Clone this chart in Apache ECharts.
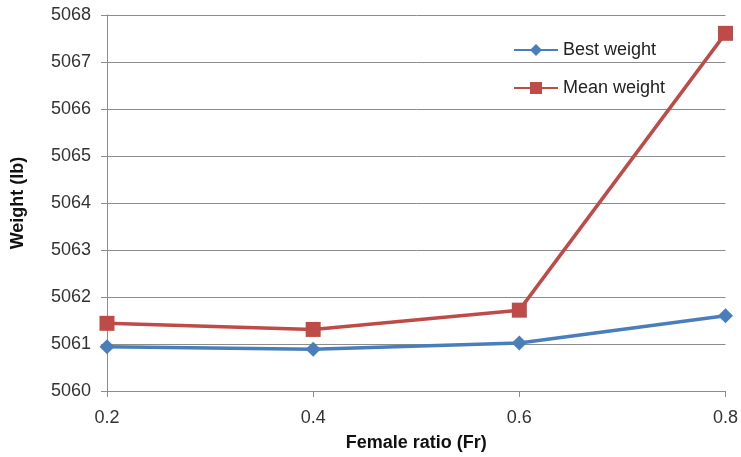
<!DOCTYPE html>
<html>
<head>
<meta charset="utf-8">
<script src="https://cdn.jsdelivr.net/npm/echarts@6/dist/echarts.min.js"></script>
<style>
  html, body { margin: 0; padding: 0; background: #fff; }
  #chart { width: 741px; height: 457px; }
</style>
</head>
<body>
<div id="chart"></div>
<script>
// Female ratio values on the x axis
const femaleRatio = ['0.2', '0.4', '0.6', '0.8'];
// Weight results (lb)
const bestWeight = [5060.94, 5060.89, 5061.02, 5061.60];
const meanWeight = [5061.44, 5061.31, 5061.72, 5067.61];

const FONT = '"Liberation Sans", Arial, sans-serif';
const chart = echarts.init(document.getElementById('chart'));

chart.setOption({
  animation: false,
  backgroundColor: '#ffffff',
  grid: { left: 107, right: 14, top: 15, bottom: 66, containLabel: false },
  legend: {
    orient: 'vertical',
    left: 508,
    top: 36,
    itemWidth: 44,
    itemHeight: 15,
    itemGap: 20,
    textStyle: { fontFamily: FONT, fontSize: 18, color: '#222' },
    data: ['Best weight', 'Mean weight']
  },
  xAxis: {
    type: 'category',
    data: femaleRatio,
    boundaryGap: false,
    name: 'Female ratio (Fr)',
    nameLocation: 'middle',
    nameGap: 43,
    nameTextStyle: { fontFamily: FONT, fontSize: 18, fontWeight: 'bold', color: '#111' },
    axisLine: { lineStyle: { color: '#8c8c8c', width: 1 } },
    axisTick: { show: true, length: 6, lineStyle: { color: '#8c8c8c' } },
    axisLabel: { fontFamily: FONT, fontSize: 18, color: '#333', margin: 18 },
    splitLine: { show: false }
  },
  yAxis: {
    type: 'value',
    min: 5060,
    max: 5068,
    interval: 1,
    name: 'Weight (lb)',
    nameLocation: 'middle',
    nameGap: 80,
    nameRotate: 90,
    nameTextStyle: { fontFamily: FONT, fontSize: 18, fontWeight: 'bold', color: '#111' },
    axisLine: { show: true, lineStyle: { color: '#8c8c8c', width: 1 } },
    axisTick: { show: true, length: 6, lineStyle: { color: '#8c8c8c' } },
    axisLabel: {
      fontFamily: FONT, fontSize: 18, color: '#333', margin: 16,
      formatter: function (v) { return String(v); }
    },
    splitLine: { show: true, lineStyle: { color: '#8c8c8c', width: 1 } }
  },
  series: [
    {
      name: 'Best weight',
      type: 'line',
      data: bestWeight,
      symbol: 'diamond',
      symbolSize: 15,
      lineStyle: { color: '#4a7ebb', width: 3.5 },
      itemStyle: { color: '#4a7ebb' },
      z: 3
    },
    {
      name: 'Mean weight',
      type: 'line',
      data: meanWeight,
      symbol: 'rect',
      symbolSize: 15,
      lineStyle: { color: '#be4b48', width: 3.5 },
      itemStyle: { color: '#be4b48' },
      z: 2
    }
  ]
});
</script>
</body>
</html>
